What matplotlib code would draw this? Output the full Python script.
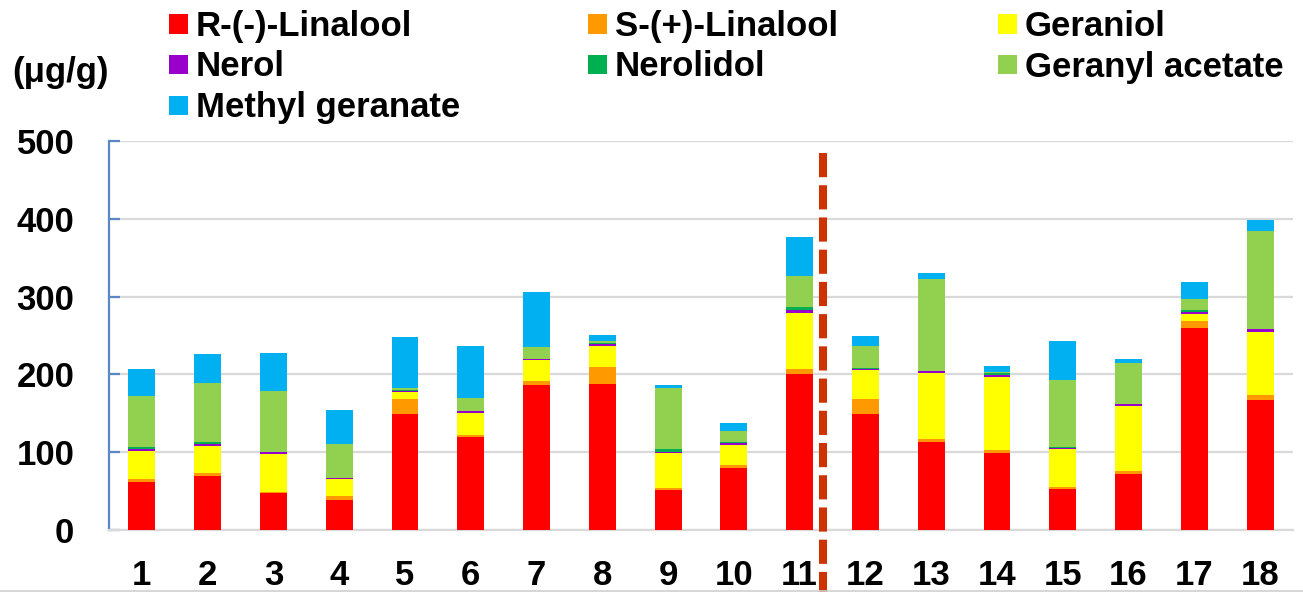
# -*- coding: utf-8 -*-

# 香気成分の積み上げ棒グラフ（サンプル1〜18）

import numpy as np
import matplotlib.pyplot as plt
from matplotlib.patches import Rectangle
from matplotlib.lines import Line2D

samples = [str(i) for i in range(1, 19)]

r_linalool = [62, 70, 47, 38, 149, 119, 187, 188, 51, 80, 200.5, 149, 113.5, 99.5, 53, 72.5, 260, 167.5]
s_linalool = [3.5, 3.5, 1.3, 6, 19.5, 3.5, 5, 21.5, 3, 3.5, 6.5, 20, 3.5, 3.5, 2, 3, 8.6, 6]
geraniol = [36, 35, 50, 22, 9, 28, 26, 27, 45.5, 26, 71.5, 37, 85, 94, 49, 84, 9.4, 81.5]
nerol = [2, 2.5, 2, 0.5, 1.3, 2, 1.7, 3, 1.3, 2, 4.3, 1.4, 2.5, 2, 2, 2, 2.6, 3]
nerolidol = [3, 2, 0.3, 0.5, 1.7, 0.3, 0.3, 1, 3, 1.5, 3.4, 0.3, 0.3, 2.5, 0.3, 0.7, 2.2, 0.3]
geranyl_acetate = [66, 75.5, 78, 44, 2.6, 17.5, 15.5, 3, 79, 14, 40, 28.5, 118, 1.3, 86, 53, 13.7, 126]
methyl_geranate = [35, 38, 49, 43, 65, 66, 70, 7, 4, 10, 50, 13.5, 7.7, 8, 51, 4, 22.3, 14.5]

names = ["R-(-)-Linalool", "S-(+)-Linalool", "Geraniol", "Nerol",
         "Nerolidol", "Geranyl acetate", "Methyl geranate"]
series = [r_linalool, s_linalool, geraniol, nerol,
          nerolidol, geranyl_acetate, methyl_geranate]
colors = ["#FF0000", "#FF9900", "#FFFF00", "#9900CC",
          "#00B050", "#92D050", "#00B0F0"]

yticks = [0, 100, 200, 300, 400, 500]
split_x = 11.35  # 11と12の境界

plt.rcParams["font.family"] = ["Liberation Sans", "DejaVu Sans"]
plt.rcParams["font.weight"] = "bold"
FS = 25

W, H = 1303, 592
fig = plt.figure(figsize=(W / 100, H / 100), dpi=100)
ax = fig.add_axes([109 / W, 62 / H, 1184 / W, 389 / H])

x = np.arange(1, len(samples) + 1)
bottom = np.zeros(len(samples))
for vals, c in zip(series, colors):
    ax.bar(x, vals, width=0.41, bottom=bottom, color=c,
           edgecolor="none", zorder=3)
    bottom += np.array(vals)

ax.set_xlim(0.5, 18.5)
ax.set_ylim(0, 500)
ax.set_xticks(x)
ax.set_xticklabels(samples, fontsize=FS, fontweight="bold")
ax.set_yticks(yticks)
ax.set_yticklabels([str(v) for v in yticks], fontsize=FS, fontweight="bold")

ax.grid(axis="y", color="#D9D9D9", linewidth=1.6, zorder=0)
for s in ["top", "right"]:
    ax.spines[s].set_visible(False)
ax.spines["bottom"].set_color("#D9D9D9")
ax.spines["bottom"].set_linewidth(1.6)
ax.spines["left"].set_color("#5B87C7")
ax.spines["left"].set_linewidth(1.6)
ax.tick_params(axis="x", length=0, pad=21)
ax.tick_params(axis="y", direction="in", length=8, width=1.6,
               color="#5B87C7", pad=25)

# 境界の破線
ax.plot([split_x, split_x], [485, -80], color="#CC3300", linewidth=5.8,
        dashes=(3, 1), solid_capstyle="butt", dash_capstyle="butt",
        clip_on=False, zorder=5)

# 単位
fig.text(12 / W, 1 - 82 / H, "(μg/g)", fontsize=FS, fontweight="bold",
         ha="left", va="baseline")

# 凡例（3列）
col_x = [169, 588, 998]
row_y = [24, 64.5, 105.5]
for i, (name, c) in enumerate(zip(names, colors)):
    cx = col_x[i % 3]
    cy = row_y[i // 3]
    fig.patches.append(Rectangle((cx / W, 1 - (cy + 9.5) / H), 19 / W, 19 / H,
                                 transform=fig.transFigure, facecolor=c,
                                 edgecolor="none"))
    fig.text((cx + 27) / W, 1 - (cy + 12) / H, name, fontsize=FS,
             fontweight="bold", ha="left", va="baseline")

fig.lines.append(Line2D([0, 1], [1.5 / H, 1.5 / H], transform=fig.transFigure,
                        color="#D0D0D0", linewidth=1.2))

fig.savefig("out.png", dpi=100)
